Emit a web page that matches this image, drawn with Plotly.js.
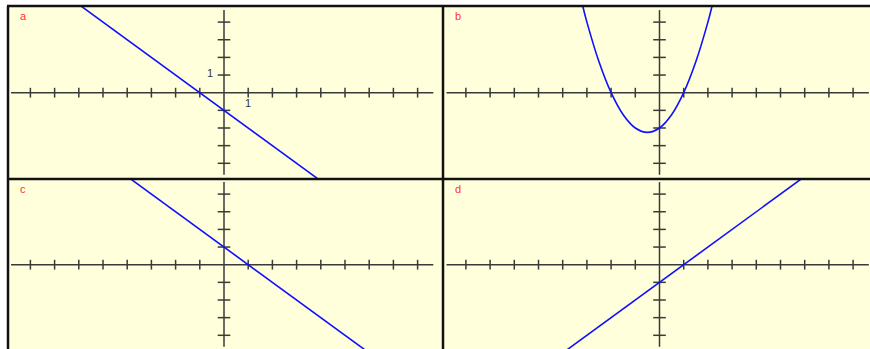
<!DOCTYPE html>
<html>
<head>
<meta charset="utf-8">
<script src="https://cdn.plot.ly/plotly-3.0.1.min.js"></script>
<style>
  html, body { margin: 0; padding: 0; background: #ffffff; }
  #chart { width: 870px; height: 349px; }
</style>
</head>
<body>
<div id="chart"></div>
<script>
// Panel names
const panelLabels = ['a', 'b', 'c', 'd'];

// Graph a: y = -x - 1 (straight line, two points)
const lineA_x = [-6, 4];
const lineA_y = [5, -5];

// Graph b: parabola through the grid points it passes
const curveB_x = [-3.17, -3, -2.5, -2, -1.5, -1, -0.5, 0, 0.5, 1, 1.5, 2, 2.17];
const curveB_y = [4.9, 4, 1.75, 0, -1.25, -2, -2.25, -2, -1.25, 0, 1.75, 4, 4.9];

// Graph c: y = -x + 1
const lineC_x = [-4, 6];
const lineC_y = [5, -5];

// Graph d: y = x - 1
const lineD_x = [-4, 6];
const lineD_y = [-5, 5];

// Tick positions on the axes
const xTicks = [-8, -7, -6, -5, -4, -3, -2, -1, 1, 2, 3, 4, 5, 6, 7, 8];
const yTicks = [-4, -3, -2, -1, 1, 2, 3, 4];
// Extent of the drawn axis lines
const axisXExtent = [-8.8, 8.65];
const axisYExtent = [-4.65, 4.68];
// Unit labels shown in graph a
const unitLabels = ['1', '1'];

// ---- page geometry (pixels) ----
const W = 870, H = 349;
const sx = 24.2, sy = 17.65;            // pixels per unit
const colEdges = [8, 443, 870];
const rowEdges = [6, 179, 349];
const originX = [224, 659.5];
const originY = [92.7, 264.7];

const BG = '#ffffdc';
const AXIS = '#3a3a3a';
const CURVE = '#1010ff';

const curves = [
  {x: lineA_x, y: lineA_y, shape: 'linear'},
  {x: curveB_x, y: curveB_y, shape: 'spline'},
  {x: lineC_x, y: lineC_y, shape: 'linear'},
  {x: lineD_x, y: lineD_y, shape: 'linear'}
];

const layout = {
  width: W, height: H,
  margin: {l: 0, r: 0, t: 0, b: 0},
  paper_bgcolor: '#ffffff',
  plot_bgcolor: BG,
  showlegend: false,
  shapes: [],
  annotations: []
};

const traces = [];

for (let p = 0; p < 4; p++) {
  const r = Math.floor(p / 2), c = p % 2;
  const sfx = p === 0 ? '' : String(p + 1);
  const xa = 'x' + sfx, ya = 'y' + sfx;

  layout['xaxis' + sfx] = {
    domain: [colEdges[c] / W, colEdges[c + 1] / W],
    range: [(colEdges[c] - originX[c]) / sx, (colEdges[c + 1] - originX[c]) / sx],
    anchor: ya, visible: false, fixedrange: true
  };
  layout['yaxis' + sfx] = {
    domain: [1 - rowEdges[r + 1] / H, 1 - rowEdges[r] / H],
    range: [(originY[r] - rowEdges[r + 1]) / sy, (originY[r] - rowEdges[r]) / sy],
    anchor: xa, visible: false, fixedrange: true
  };

  // coordinate axes
  traces.push({x: axisXExtent, y: [0, 0], xaxis: xa, yaxis: ya, mode: 'lines',
    line: {color: AXIS, width: 1.5}, hoverinfo: 'skip'});
  traces.push({x: [0, 0], y: axisYExtent, xaxis: xa, yaxis: ya, mode: 'lines',
    line: {color: AXIS, width: 1.5}, hoverinfo: 'skip'});
  // tick marks
  traces.push({x: xTicks, y: xTicks.map(() => 0), xaxis: xa, yaxis: ya, mode: 'markers',
    marker: {symbol: 'line-ns', size: 7, line: {color: AXIS, width: 1.5}}, cliponaxis: true, hoverinfo: 'skip'});
  traces.push({x: yTicks.map(() => 0), y: yTicks, xaxis: xa, yaxis: ya, mode: 'markers',
    marker: {symbol: 'line-ew', size: 9, line: {color: AXIS, width: 1.5}}, cliponaxis: true, hoverinfo: 'skip'});

  // the graph
  const cv = curves[p];
  traces.push({x: cv.x, y: cv.y, xaxis: xa, yaxis: ya, mode: 'lines',
    line: {color: CURVE, width: 1.6, shape: cv.shape, smoothing: 1}, hoverinfo: 'skip'});

  // panel letter
  layout.annotations.push({
    text: panelLabels[p], xref: 'paper', yref: 'paper',
    x: (colEdges[c] + 15) / W, y: 1 - (rowEdges[r] + 10) / H,
    xanchor: 'center', yanchor: 'middle', showarrow: false,
    font: {family: 'Liberation Sans, Arial, sans-serif', size: 11, color: '#ff3030'}
  });
}

// unit labels in graph a
layout.annotations.push({text: unitLabels[0], xref: 'x', yref: 'y', x: -0.58, y: 1.13,
  showarrow: false, xanchor: 'center', yanchor: 'middle',
  font: {family: 'Liberation Sans, Arial, sans-serif', size: 11, color: '#333333'}});
layout.annotations.push({text: unitLabels[1], xref: 'x', yref: 'y', x: 1, y: -0.6,
  showarrow: false, xanchor: 'center', yanchor: 'middle',
  font: {family: 'Liberation Sans, Arial, sans-serif', size: 11, color: '#333333'}});

// frame lines between the panels
const frame = [
  [colEdges[0] - 1, rowEdges[0], W, rowEdges[0]],
  [colEdges[0], rowEdges[0], colEdges[0], H],
  [colEdges[1], rowEdges[0], colEdges[1], H],
  [colEdges[0], rowEdges[1], W, rowEdges[1]]
];
frame.forEach(f => layout.shapes.push({
  type: 'line', xref: 'paper', yref: 'paper',
  x0: f[0] / W, y0: 1 - f[1] / H, x1: f[2] / W, y1: 1 - f[3] / H,
  line: {color: '#111111', width: 2.5}
}));

Plotly.newPlot('chart', traces, layout, {displayModeBar: false, staticPlot: true});
</script>
</body>
</html>
